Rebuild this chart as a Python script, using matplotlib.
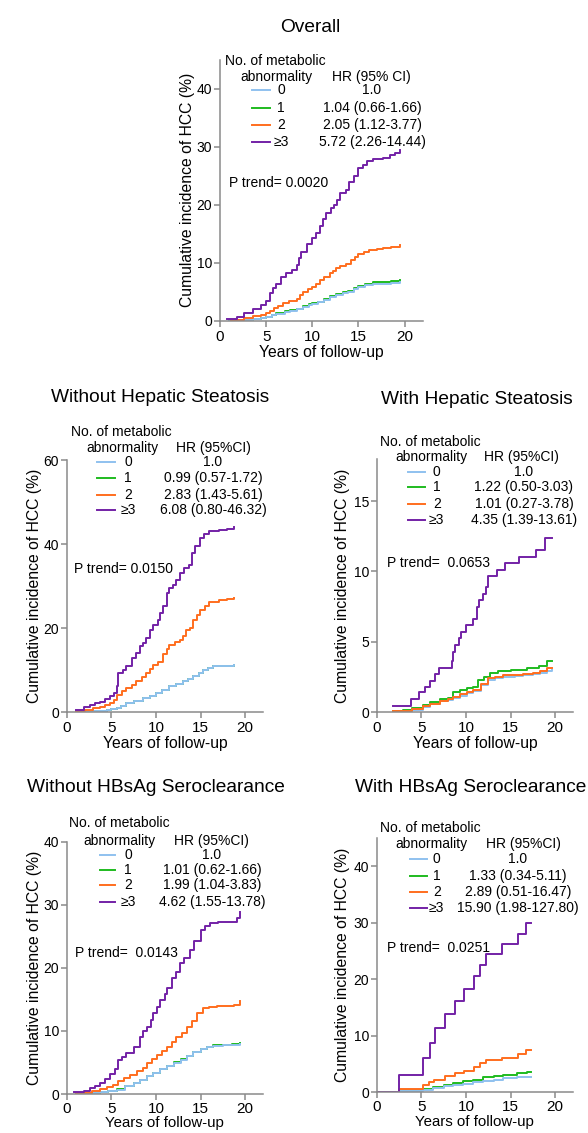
import matplotlib
matplotlib.use('Agg')
import matplotlib.pyplot as plt
from matplotlib.lines import Line2D

plt.rcParams['font.family'] = ['Liberation Sans', 'DejaVu Sans']

W, H = 588, 1133

# colours of the four groups: 0, 1, 2, >=3
colors = ['#8FC1EF', '#1FBB1F', '#FF6E1E', '#7321A6']
group_labels = ['0', '1', '2', '\u22653']
draw_order = [1, 0, 2, 3]  # blue drawn over green, as in the original

# ---- Overall ----
ov_t0 = [1.0, 2.0, 3.0, 3.6, 4.4, 5.0, 5.6, 6.1, 7.0, 7.6, 8.3, 9.0, 9.6, 10.0, 10.6, 11.3, 11.9, 12.6, 13.3, 13.9, 14.5, 15.0, 15.7, 16.6, 17.5, 18.5, 19.5]
ov_v0 = [0.03, 0.08, 0.15, 0.25, 0.4, 0.6, 0.9, 1.2, 1.5, 1.7, 2.0, 2.4, 2.7, 2.9, 3.2, 3.6, 4.1, 4.5, 4.8, 5.0, 5.4, 5.8, 6.1, 6.3, 6.4, 6.5, 6.7]
ov_t1 = [1.0, 2.0, 3.0, 3.6, 4.4, 5.0, 5.6, 6.1, 7.0, 7.6, 8.3, 9.0, 9.6, 10.0, 10.6, 11.3, 11.9, 12.6, 13.3, 13.9, 14.5, 15.0, 15.7, 16.6, 17.5, 18.5, 19.5]
ov_v1 = [0.05, 0.1, 0.2, 0.3, 0.5, 0.7, 1.0, 1.3, 1.6, 1.8, 2.1, 2.5, 2.8, 3.0, 3.3, 3.8, 4.3, 4.6, 5.0, 5.1, 5.6, 6.0, 6.3, 6.6, 6.7, 6.9, 7.0]
ov_t2 = [1.2, 1.8, 2.6, 3.6, 4.4, 5.0, 5.4, 5.8, 6.3, 6.8, 7.5, 8.3, 8.7, 9.0, 9.5, 10.0, 10.4, 10.8, 11.3, 11.9, 12.3, 12.6, 13.0, 13.7, 14.2, 14.6, 15.0, 15.6, 16.2, 17.0, 17.7, 18.5, 19.5]
ov_v2 = [0.1, 0.2, 0.4, 0.8, 1.0, 1.3, 1.7, 2.2, 2.5, 3.0, 3.4, 3.8, 4.4, 4.9, 5.4, 5.8, 6.4, 7.0, 7.6, 8.2, 8.6, 9.1, 9.4, 9.8, 10.4, 11.0, 11.5, 11.9, 12.2, 12.4, 12.5, 12.7, 13.0]
ov_t3 = [0.8, 1.8, 2.6, 3.6, 4.4, 5.0, 5.4, 5.7, 6.1, 6.6, 7.2, 7.8, 8.3, 8.6, 8.8, 9.4, 10.0, 10.4, 10.8, 11.2, 11.5, 12.0, 12.4, 12.7, 13.0, 13.7, 14.0, 14.5, 15.0, 15.5, 15.9, 16.6, 17.7, 18.4, 19.0, 19.5]
ov_v3 = [0.3, 0.7, 1.3, 2.1, 2.7, 3.4, 4.7, 5.6, 6.4, 7.6, 8.3, 8.8, 9.6, 10.8, 11.9, 13.2, 14.2, 15.2, 16.3, 17.5, 18.6, 19.5, 20.0, 20.8, 22.0, 22.6, 24.0, 25.0, 26.3, 26.9, 27.6, 27.9, 28.1, 28.6, 29.0, 29.4]
ov_hr = ['1.0', '1.04 (0.66-1.66)', '2.05 (1.12-3.77)', '5.72 (2.26-14.44)']

# ---- Without hepatic steatosis ----
nhs_t0 = [1.0, 2.0, 3.0, 3.7, 4.5, 5.0, 5.6, 6.1, 6.7, 7.5, 8.6, 9.3, 10.0, 10.7, 11.5, 12.2, 13.0, 13.6, 14.2, 14.8, 15.3, 15.8, 16.4, 17.5, 18.8]
nhs_v0 = [0.0, 0.1, 0.2, 0.3, 0.5, 0.7, 1.0, 1.5, 2.1, 2.6, 3.3, 3.9, 4.5, 5.2, 6.1, 6.6, 7.3, 7.8, 8.5, 9.2, 10.1, 10.5, 10.9, 11.0, 11.1]
nhs_t1 = [1.0, 2.0, 3.0, 3.7, 4.5, 5.0, 5.6, 6.1, 6.7, 7.5, 8.6, 9.3, 10.0, 10.7, 11.5, 12.2, 13.0, 13.6, 14.2, 14.8, 15.3, 15.8, 16.4, 17.5, 18.8]
nhs_v1 = [0.0, 0.1, 0.2, 0.3, 0.5, 0.7, 1.0, 1.5, 2.1, 2.6, 3.3, 3.9, 4.6, 5.3, 6.1, 6.6, 7.3, 7.8, 8.5, 9.3, 10.1, 10.5, 10.9, 11.0, 11.1]
nhs_t2 = [1.0, 2.0, 3.0, 3.7, 4.3, 4.8, 5.3, 5.6, 6.2, 6.7, 7.3, 7.8, 8.4, 8.9, 9.3, 9.7, 10.2, 10.8, 11.2, 11.5, 12.1, 12.7, 13.0, 13.4, 13.8, 14.2, 14.6, 14.9, 15.5, 16.0, 17.1, 18.0, 18.8]
nhs_v2 = [0.2, 0.5, 0.9, 1.3, 1.7, 2.1, 2.8, 4.1, 4.9, 5.7, 6.5, 7.3, 8.3, 9.3, 10.2, 11.3, 12.0, 13.7, 14.9, 16.0, 16.6, 17.2, 18.2, 19.6, 20.0, 22.0, 23.2, 24.4, 25.2, 26.3, 26.7, 26.9, 27.1]
nhs_t3 = [1.0, 1.9, 2.6, 3.2, 3.7, 4.3, 4.8, 5.3, 5.6, 5.8, 6.3, 6.7, 7.3, 7.8, 8.2, 8.6, 8.9, 9.3, 9.7, 10.2, 10.5, 10.8, 11.2, 11.5, 11.9, 12.3, 12.7, 13.2, 13.7, 14.0, 14.4, 14.9, 15.4, 16.0, 17.1, 18.0, 18.8]
nhs_v3 = [0.5, 1.1, 1.7, 2.1, 2.5, 3.1, 3.7, 4.6, 6.1, 9.3, 10.0, 10.9, 12.9, 14.0, 15.6, 16.5, 17.6, 19.5, 20.8, 22.0, 23.5, 25.2, 28.3, 29.5, 30.3, 31.5, 33.1, 34.3, 35.0, 37.8, 39.5, 41.4, 42.3, 43.0, 43.4, 43.6, 44.0]
nhs_hr = ['1.0', '0.99 (0.57-1.72)', '2.83 (1.43-5.61)', '6.08 (0.80-46.32)']

# ---- With hepatic steatosis ----
hs_t0 = [1.8, 3.0, 4.0, 5.2, 6.0, 7.1, 8.0, 8.6, 9.3, 10.1, 10.8, 11.7, 12.5, 13.3, 14.2, 15.5, 16.4, 17.5, 18.3, 19.1, 19.6]
hs_v0 = [0.03, 0.08, 0.15, 0.35, 0.55, 0.75, 0.85, 1.0, 1.15, 1.35, 1.5, 1.9, 2.3, 2.4, 2.5, 2.55, 2.6, 2.7, 2.8, 2.95, 3.0]
hs_t1 = [1.8, 3.0, 4.0, 5.2, 6.0, 7.1, 8.0, 8.6, 9.3, 10.1, 10.8, 11.4, 12.0, 12.7, 13.6, 15.0, 16.8, 18.2, 19.1, 19.6]
hs_v1 = [0.1, 0.15, 0.25, 0.5, 0.7, 0.9, 1.0, 1.4, 1.55, 1.7, 1.8, 2.3, 2.5, 2.8, 2.9, 3.0, 3.1, 3.3, 3.6, 3.6]
hs_t2 = [1.8, 3.0, 4.0, 5.2, 6.0, 7.1, 8.0, 8.6, 9.3, 10.1, 10.8, 11.7, 12.5, 13.3, 14.2, 15.5, 16.4, 17.5, 18.3, 19.1, 19.6]
hs_v2 = [0.05, 0.1, 0.2, 0.4, 0.6, 0.8, 0.9, 1.1, 1.25, 1.4, 1.6, 2.0, 2.4, 2.5, 2.6, 2.65, 2.7, 2.8, 2.9, 3.1, 3.1]
hs_t3 = [1.8, 3.9, 4.7, 5.4, 6.0, 6.5, 7.0, 8.4, 8.6, 8.8, 9.2, 9.5, 10.0, 10.8, 11.2, 11.5, 11.9, 12.2, 12.5, 13.5, 14.4, 16.0, 17.8, 18.9, 19.6]
hs_v3 = [0.45, 0.9, 1.4, 1.8, 2.2, 2.7, 3.1, 3.6, 4.3, 4.8, 5.3, 5.7, 6.2, 6.6, 7.5, 8.0, 8.4, 8.9, 9.7, 10.1, 10.6, 11.0, 11.5, 12.4, 12.4]
hs_hr = ['1.0', '1.22 (0.50-3.03)', '1.01 (0.27-3.78)', '4.35 (1.39-13.61)']

# ---- Without HBsAg seroclearance ----
nsc_t0 = [1.0, 2.0, 3.0, 3.7, 4.6, 5.6, 6.5, 7.5, 8.2, 9.0, 9.7, 10.5, 11.2, 12.0, 12.8, 13.5, 14.2, 15.0, 15.7, 16.4, 17.5, 18.5, 19.4]
nsc_v0 = [0.0, 0.1, 0.2, 0.3, 0.5, 0.7, 1.2, 1.7, 2.2, 2.8, 3.3, 3.9, 4.4, 4.9, 5.4, 6.0, 6.6, 7.1, 7.4, 7.6, 7.7, 7.8, 7.9]
nsc_t1 = [1.0, 2.0, 3.0, 3.7, 4.6, 5.6, 6.5, 7.5, 8.2, 9.0, 9.7, 10.5, 11.2, 12.0, 12.8, 13.5, 14.2, 15.0, 15.7, 16.4, 17.5, 18.5, 19.4]
nsc_v1 = [0.0, 0.1, 0.2, 0.3, 0.5, 0.8, 1.2, 1.7, 2.2, 2.8, 3.3, 3.9, 4.5, 5.0, 5.6, 6.0, 6.7, 7.2, 7.5, 7.7, 7.8, 8.0, 8.1]
nsc_t2 = [1.0, 1.9, 2.8, 3.7, 4.5, 5.2, 5.8, 6.4, 7.1, 7.9, 8.5, 9.0, 9.6, 10.1, 10.7, 11.2, 11.8, 12.3, 12.9, 13.5, 14.0, 14.6, 15.3, 16.0, 16.8, 18.7, 19.4]
nsc_v2 = [0.1, 0.2, 0.5, 0.8, 1.1, 1.5, 2.0, 2.5, 3.0, 3.6, 4.2, 4.9, 5.6, 6.2, 6.8, 7.5, 8.3, 9.1, 9.7, 10.7, 11.6, 12.8, 13.6, 13.8, 13.9, 14.1, 14.8]
nsc_t3 = [0.8, 1.9, 2.6, 3.2, 3.7, 4.3, 4.8, 5.4, 5.8, 6.2, 6.7, 7.5, 8.2, 8.6, 9.0, 9.4, 9.7, 10.1, 10.5, 11.0, 11.2, 11.8, 12.3, 12.7, 13.1, 13.8, 14.3, 15.0, 15.5, 16.1, 17.0, 18.3, 19.1, 19.4]
nsc_v3 = [0.3, 0.5, 0.95, 1.3, 1.7, 2.3, 3.1, 3.9, 5.4, 5.9, 6.5, 7.5, 9.1, 10.0, 10.7, 11.8, 12.8, 13.8, 14.9, 15.8, 16.8, 18.4, 19.3, 20.7, 21.5, 22.8, 24.3, 26.0, 26.6, 27.1, 27.3, 27.3, 27.9, 28.8]
nsc_hr = ['1.0', '1.01 (0.62-1.66)', '1.99 (1.04-3.83)', '4.62 (1.55-13.78)']

# ---- With HBsAg seroclearance ----
sc_t0 = [0, 2.5, 5.2, 6.3, 7.5, 8.6, 9.7, 10.8, 11.9, 13.1, 14.2, 15.7, 16.8, 17.3]
sc_v0 = [0, 0.2, 0.4, 0.7, 1.0, 1.2, 1.5, 1.7, 2.0, 2.2, 2.4, 2.6, 2.7, 2.7]
sc_t1 = [0, 2.5, 5.2, 6.3, 7.5, 8.6, 9.7, 10.8, 11.9, 13.1, 14.2, 15.7, 16.8, 17.3]
sc_v1 = [0, 0.3, 0.6, 0.9, 1.3, 1.6, 1.9, 2.2, 2.6, 2.9, 3.1, 3.3, 3.5, 3.5]
sc_t2 = [0, 2.5, 5.15, 5.9, 6.4, 7.6, 8.8, 9.8, 10.9, 11.6, 12.3, 14.0, 15.8, 16.7, 17.3]
sc_v2 = [0, 0.5, 1.2, 1.7, 2.2, 2.8, 3.3, 3.8, 4.5, 5.1, 5.6, 6.1, 6.8, 7.4, 7.4]
sc_t3 = [0, 2.5, 5.15, 6.0, 6.5, 7.6, 8.8, 9.8, 10.9, 11.6, 12.3, 14.0, 15.8, 16.7, 17.3]
sc_v3 = [0, 3.1, 6.0, 8.7, 11.3, 13.8, 16.1, 18.3, 20.5, 22.5, 24.4, 26.2, 28.0, 29.9, 29.9]
sc_hr = ['1.0', '1.33 (0.34-5.11)', '2.89 (0.51-16.47)', '15.90 (1.98-127.80)']

fig = plt.figure(figsize=(W / 100, H / 100), dpi=100)
fig.patch.set_facecolor('white')


def px(x, y):
    # figure pixel (from top-left) -> figure fraction
    return x / W, 1 - y / H


def make_axes(left, top, right, bottom, ymax, yticks, ylab_x, xlab_off, xlab_fs=11.3, xpad=2.5):
    ax = fig.add_axes([left / W, 1 - bottom / H, (right - left) / W, (bottom - top) / H])
    ax.set_xlim(0, 22)
    ax.set_ylim(0, ymax)
    ax.set_xticks([0, 5, 10, 15, 20])
    ax.set_yticks(yticks)
    for s in ['top', 'right']:
        ax.spines[s].set_visible(False)
    for s in ['left', 'bottom']:
        ax.spines[s].set_color('#8a8a8a')
        ax.spines[s].set_linewidth(1.1)
    ax.tick_params(axis='both', color='#8a8a8a', width=1.1, length=4, direction='out')
    ax.tick_params(axis='x', labelsize=11, pad=xpad)
    ax.tick_params(axis='y', labelsize=10, pad=1.5)
    ax.set_xlabel('Years of follow-up', fontsize=xlab_fs)
    ax.set_ylabel('Cumulative incidence of HCC (%)', fontsize=11.3)
    # ylabel anchor is its right edge, xlabel anchor its top edge
    ax.yaxis.set_label_coords((ylab_x - left) / (right - left), 0.5)
    ax.xaxis.set_label_coords(0.5, -xlab_off / (bottom - top))
    ax.patch.set_alpha(0)
    return ax


def draw_curves(ax, series):
    for i in draw_order:
        t, v = series[i]
        ax.step(t, v, where='post', color=colors[i], lw=1.4)


def draw_legend(x_no, y_no, x_ab, y_ab, x_hr, rows_y, x_line0, x_line1, x_lab, x_hrv,
                hr_head, hr_vals, ptxt, x_p, y_p):
    fs = 10
    fig.text(*px(x_no, y_no), 'No. of metabolic', fontsize=fs, ha='left', va='center')
    fig.text(*px(x_ab, y_ab), 'abnormality', fontsize=fs, ha='left', va='center')
    fig.text(*px(x_hr, y_ab), hr_head, fontsize=fs, ha='center', va='center')
    for ry, c, lab, hr in zip(rows_y, colors, group_labels, hr_vals):
        (a0, b0), (a1, b1) = px(x_line0, ry), px(x_line1, ry)
        fig.add_artist(Line2D([a0, a1], [b0, b1], color=c, lw=1.4, transform=fig.transFigure))
        fig.text(*px(x_lab, ry), lab, fontsize=fs, ha='center', va='center')
        fig.text(*px(x_hrv, ry), hr, fontsize=fs, ha='center', va='center')
    fig.text(*px(x_p, y_p), ptxt, fontsize=fs, ha='left', va='center')


# Overall
ax = make_axes(220, 60, 423, 320.7, 45, [0, 10, 20, 30, 40], 195, 24)
draw_curves(ax, [(ov_t0, ov_v0), (ov_t1, ov_v1), (ov_t2, ov_v2), (ov_t3, ov_v3)])
fig.text(*px(310, 27), 'Overall', fontsize=13.8, ha='center', va='center')
draw_legend(225, 61, 240, 77, 371, [90, 108, 125, 142], 252, 270, 281, 372,
            'HR (95% CI)', ov_hr, 'P trend= 0.0020', 229, 183)

# Without hepatic steatosis
ax = make_axes(66.7, 460, 263, 712, 60, [0, 20, 40, 60], 42, 24)
draw_curves(ax, [(nhs_t0, nhs_v0), (nhs_t1, nhs_v1), (nhs_t2, nhs_v2), (nhs_t3, nhs_v3)])
fig.text(*px(160, 398), 'Without Hepatic Steatosis', fontsize=13.8, ha='center', va='center')
draw_legend(70.7, 431.7, 86, 447.7, 213, [461.7, 478, 495, 510], 96.7, 115, 128, 213,
            'HR (95%CI)', nhs_hr, 'P trend= 0.0150', 74, 569)

# With hepatic steatosis
ax = make_axes(376.7, 459, 573, 712, 18, [0, 5, 10, 15], 350, 24)
draw_curves(ax, [(hs_t0, hs_v0), (hs_t1, hs_v1), (hs_t2, hs_v2), (hs_t3, hs_v3)])
fig.text(*px(477, 400), 'With Hepatic Steatosis', fontsize=13.8, ha='center', va='center')
draw_legend(380, 441.7, 395, 457.3, 521.7, [471.7, 487.3, 504, 520], 408, 425, 436.7, 524,
            'HR (95%CI)', hs_hr, 'P trend=  0.0653', 386.7, 563)

# Without HBsAg seroclearance
ax = make_axes(66.7, 841.7, 263, 1094, 40, [0, 10, 20, 30, 40], 42, 21.5, xlab_fs=10.8, xpad=1.5)
draw_curves(ax, [(nsc_t0, nsc_v0), (nsc_t1, nsc_v1), (nsc_t2, nsc_v2), (nsc_t3, nsc_v3)])
fig.text(*px(156, 788), 'Without HBsAg Seroclearance', fontsize=13.8, ha='center', va='center')
draw_legend(69, 823, 83, 840.7, 211.7, [855, 870, 885, 901.7], 100, 115, 128, 212,
            'HR (95%CI)', nsc_hr, 'P trend=  0.0143', 75, 953)

# With HBsAg seroclearance
ax = make_axes(376.7, 838, 573, 1092, 45, [0, 10, 20, 30, 40], 350, 23, xlab_fs=10.8, xpad=1.5)
draw_curves(ax, [(sc_t0, sc_v0), (sc_t1, sc_v1), (sc_t2, sc_v2), (sc_t3, sc_v3)])
fig.text(*px(471, 788), 'With HBsAg Seroclearance', fontsize=13.8, ha='center', va='center')
draw_legend(380, 828, 395, 844, 523, [859, 876, 891.7, 908], 410, 426.7, 436.7, 518,
            'HR (95%CI)', sc_hr, 'P trend=  0.0251', 386.7, 948)

fig.savefig('out.png', dpi=100)
